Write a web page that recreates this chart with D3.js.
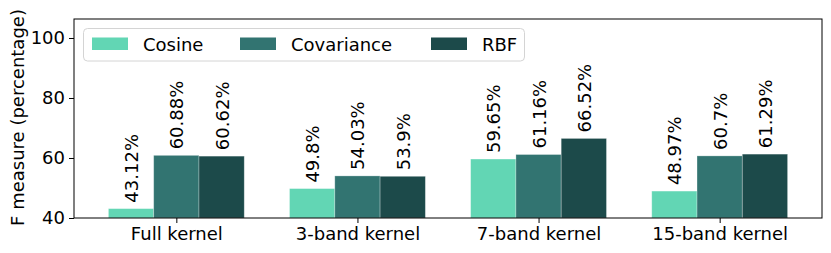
<!DOCTYPE html>
<html><head><meta charset="utf-8">
<script src="https://cdn.jsdelivr.net/npm/d3@7"></script>
<style>body{margin:0;background:#fff;} svg{display:block;} text{font-family:"DejaVu Sans",sans-serif;fill:#000;}</style>
</head><body>
<svg id="c" width="831" height="253"></svg>
<script>
const categories = ["Full kernel", "3-band kernel", "7-band kernel", "15-band kernel"];
const seriesNames = ["Cosine", "Covariance", "RBF"];
const cosine = [43.12, 49.8, 59.65, 48.97];
const covariance = [60.88, 54.03, 61.16, 60.7];
const rbf = [60.62, 53.9, 66.52, 61.29];
const labels = [
  ["43.12%", "49.8%", "59.65%", "48.97%"],
  ["60.88%", "54.03%", "61.16%", "60.7%"],
  ["60.62%", "53.9%", "66.52%", "61.29%"]
];
const yTicks = [40, 60, 80, 100];
const colors = ["#62d6b4", "#327471", "#1c4a4a"];
const series = [cosine, covariance, rbf];

const svg = d3.select("#c");
const L = 74, R = 822, T = 19, B = 218;
const x = d3.scaleLinear().domain([-0.565, 3.565]).range([L, R]);
const y = d3.scaleLinear().domain([40, 106.33]).range([B, T]);
const bw = 0.25;

const g = svg.append("g");
series.forEach((vals, si) => {
  g.selectAll(null).data(vals).enter().append("rect")
    .attr("x", (d, i) => x(i + (si - 1) * bw - bw / 2))
    .attr("width", x(bw) - x(0))
    .attr("y", d => y(d))
    .attr("height", d => y(40) - y(d))
    .attr("fill", colors[si])
    .attr("stroke", "rgba(255,255,255,0.35)")
    .attr("stroke-width", 0.8);
  g.selectAll(null).data(vals).enter().append("text")
    .attr("transform", (d, i) => `translate(${x(i + (si - 1) * bw) + 0.5},${y(d) - 6}) rotate(-90)`)
    .attr("text-anchor", "start")
    .attr("dominant-baseline", "central")
    .attr("font-size", 18)
    .text((d, i) => labels[si][i]);
});

// frame
svg.append("rect").attr("x", L).attr("y", T).attr("width", R - L).attr("height", B - T)
  .attr("fill", "none").attr("stroke", "#000").attr("stroke-width", 1);

// y axis
const ya = svg.append("g").attr("transform", `translate(${L},0)`)
  .call(d3.axisLeft(y).tickValues(yTicks).tickSize(5).tickPadding(4));
ya.select(".domain").remove();
ya.selectAll("text").attr("font-size", 18).attr("font-family", "DejaVu Sans").attr("fill", "#000");

// x axis
const xa = svg.append("g").attr("transform", `translate(0,${B})`)
  .call(d3.axisBottom(x).tickValues([0, 1, 2, 3]).tickFormat(i => categories[i]).tickSize(5).tickPadding(4));
xa.select(".domain").remove();
xa.selectAll("text").attr("font-size", 18).attr("font-family", "DejaVu Sans").attr("fill", "#000");

// y label
svg.append("text").attr("transform", `translate(17,117.5) rotate(-90)`)
  .attr("text-anchor", "middle").attr("dominant-baseline", "central").attr("font-size", 18)
  .text("F measure (percentage)");

// legend
const lg = svg.append("g");
lg.append("rect").attr("x", 83.5).attr("y", 28.5).attr("width", 441).attr("height", 32.5)
  .attr("rx", 4).attr("fill", "rgba(255,255,255,0.8)").attr("stroke", "#d4d4d4").attr("stroke-width", 1);
const lx = [92, 240, 431];
seriesNames.forEach((n, i) => {
  lg.append("rect").attr("x", lx[i]).attr("y", 37.5).attr("width", 36).attr("height", 12.5).attr("fill", colors[i]);
  lg.append("text").attr("x", lx[i] + 51).attr("y", 44).attr("dominant-baseline", "central")
    .attr("font-size", 18).text(n);
});
</script>
</body></html>
